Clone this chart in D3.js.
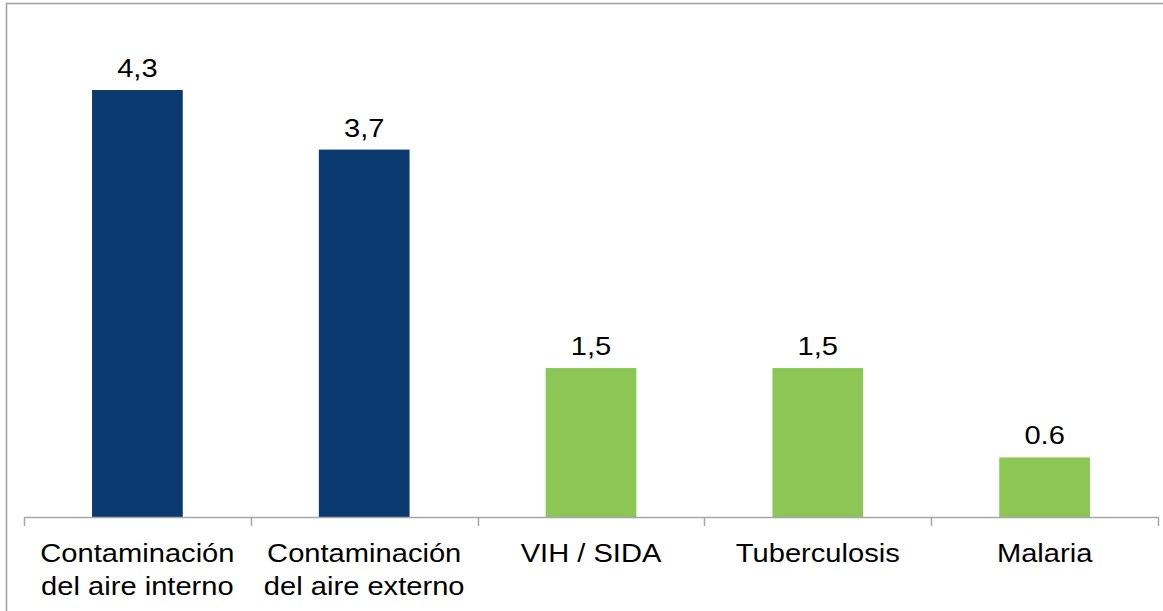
<!DOCTYPE html>
<html>
<head>
<meta charset="utf-8">
<script src="https://cdn.jsdelivr.net/npm/d3@7"></script>
<style>
  body { margin: 0; background: #fff; }
  svg text { font-family: "Liberation Sans", Arial, sans-serif; fill: #000; }
</style>
</head>
<body>
<div id="chart"></div>
<script>
// data
var categories = [
  ["Contaminación", "del aire interno"],
  ["Contaminación", "del aire externo"],
  ["VIH / SIDA"],
  ["Tuberculosis"],
  ["Malaria"]
];
var values = [4.3, 3.7, 1.5, 1.5, 0.6];
var valueLabels = ["4,3", "3,7", "1,5", "1,5", "0.6"];
var groups = ["air", "air", "disease", "disease", "disease"];

var width = 1163, height = 611;
var margin = {top: 20, right: 5, bottom: 94, left: 24};
var fontSize = 26, stretch = 1.12; // text in the reference is slightly wide

var svg = d3.select("#chart").append("svg")
  .attr("width", width)
  .attr("height", height);

// outer frame (only top and left visible in the reference)
svg.append("rect")
  .attr("x", 6.5).attr("y", 3.5)
  .attr("width", width + 20).attr("height", height + 20)
  .attr("fill", "none")
  .attr("stroke", "#a0a0a0")
  .attr("stroke-width", 1.5);

var idx = d3.range(values.length);

var x = d3.scaleBand()
  .domain(idx)
  .range([margin.left, width - margin.right])
  .paddingInner(0.6)
  .paddingOuter(0.3);

var xOuter = d3.scaleBand()
  .domain(idx)
  .range([margin.left, width - margin.right]);

var y = d3.scaleLinear()
  .domain([0, 5])
  .range([height - margin.bottom, height - margin.bottom - 5 * 99.3]);

var color = d3.scaleOrdinal()
  .domain(["air", "disease"])
  .range(["#0a3a6f", "#8cc654"]);

var base = y(0);

svg.selectAll("rect.bar")
  .data(idx).enter().append("rect")
  .attr("class", "bar")
  .attr("x", function(i) { return x(i); })
  .attr("width", x.bandwidth())
  .attr("y", function(i) { return y(values[i]); })
  .attr("height", function(i) { return base - y(values[i]); })
  .attr("fill", function(i) { return color(groups[i]); });

// value labels
svg.selectAll("text.val")
  .data(idx).enter().append("text")
  .attr("class", "val")
  .attr("transform", function(i) {
    return "translate(" + (x(i) + x.bandwidth() / 2) + "," + (y(values[i]) - 13) + ") scale(" + stretch + ",1)";
  })
  .attr("text-anchor", "middle")
  .style("font-size", fontSize + "px")
  .text(function(i) { return valueLabels[i]; });

// category axis: baseline with ticks at the category boundaries
var axis = svg.append("g").attr("class", "axis");
axis.append("line")
  .attr("x1", margin.left).attr("x2", width - margin.right)
  .attr("y1", base + 0.5).attr("y2", base + 0.5)
  .attr("stroke", "#a6a6a6").attr("stroke-width", 1.5);

var bounds = idx.map(function(i) { return xOuter(i); }).concat([width - margin.right]);
axis.selectAll("line.tick")
  .data(bounds).enter().append("line")
  .attr("class", "tick")
  .attr("x1", function(d) { return Math.round(d) + 0.5; })
  .attr("x2", function(d) { return Math.round(d) + 0.5; })
  .attr("y1", base).attr("y2", base + 9)
  .attr("stroke", "#a6a6a6").attr("stroke-width", 1.5);

var labels = axis.selectAll("text.cat")
  .data(idx).enter().append("text")
  .attr("class", "cat")
  .attr("text-anchor", "middle")
  .attr("transform", function(i) {
    return "translate(" + (xOuter(i) + xOuter.bandwidth() / 2) + "," + (base + 45) + ") scale(" + stretch + ",1)";
  })
  .style("font-size", fontSize + "px");

labels.selectAll("tspan")
  .data(function(i) { return categories[i]; })
  .enter().append("tspan")
  .attr("x", 0)
  .attr("dy", function(d, k) { return k === 0 ? 0 : 33; })
  .text(function(d) { return d; });
</script>
</body>
</html>
